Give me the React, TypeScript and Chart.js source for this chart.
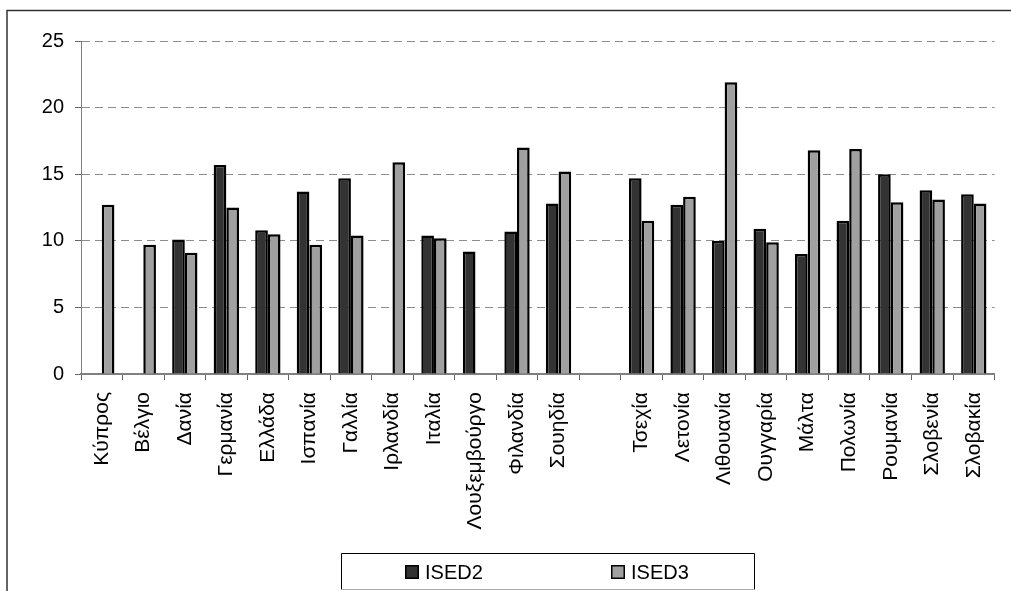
import React, { useEffect, useRef } from "react";
import { Chart, registerables } from "chart.js";

Chart.register(...registerables);

const categories = [
  "Κύπρος", "Βέλγιο", "Δανία", "Γερμανία", "Ελλάδα", "Ισπανία", "Γαλλία",
  "Ιρλανδία", "Ιταλία", "Λουξεμβούργο", "Φιλανδία", "Σουηδία", "",
  "Τσεχία", "Λετονία", "Λιθουανία", "Ουγγαρία", "Μάλτα", "Πολωνία",
  "Ρουμανία", "Σλοβενία", "Σλοβακία",
];

const ised2: (number | null)[] = [
  null, null, 10.1, 15.7, 10.8, 13.7, 14.7, null, 10.4, 9.2, 10.7, 12.8, null,
  14.7, 12.7, 10.0, 10.9, 9.0, 11.5, 15.0, 13.8, 13.5,
];

const ised3: (number | null)[] = [
  12.7, 9.7, 9.1, 12.5, 10.5, 9.7, 10.4, 15.9, 10.2, null, 17.0, 15.2, null,
  11.5, 13.3, 21.9, 9.9, 16.8, 16.9, 12.9, 13.1, 12.8,
];

const seriesNames = ["ISED2", "ISED3"];
const seriesColors = ["#333333", "#a0a0a0"];
const yTicks = [0, 5, 10, 15, 20, 25];

const FONT = "Arial, 'Liberation Sans', sans-serif";

const framePlugin = {
  id: "frameAndLegend",
  beforeDraw(chart: any) {
    const ctx = chart.ctx;
    ctx.save();
    ctx.fillStyle = "#ffffff";
    ctx.fillRect(0, 0, chart.width, chart.height);
    ctx.restore();
  },
  afterDraw(chart: any) {
    const ctx = chart.ctx;
    ctx.save();
    // outer frame
    ctx.strokeStyle = "#333333";
    ctx.lineWidth = 1.5;
    ctx.strokeRect(7, 10.5, 1100, 700);
    // legend box
    const lx = 341.5, ly = 553.5, lw = 413, lh = 36;
    ctx.lineWidth = 1;
    ctx.strokeStyle = "#000000";
    ctx.beginPath();
    ctx.moveTo(lx, ly + lh);
    ctx.lineTo(lx, ly);
    ctx.lineTo(lx + lw, ly);
    ctx.lineTo(lx + lw, ly + lh);
    ctx.stroke();
    ctx.strokeStyle = "#aaaaaa";
    ctx.beginPath();
    ctx.moveTo(lx, ly + lh);
    ctx.lineTo(lx + lw, ly + lh);
    ctx.stroke();
    // legend items
    const items = chart.data.datasets.map((d: any) => ({ label: d.label, color: d.backgroundColor }));
    const xs = [405, 611];
    ctx.font = `20px ${FONT}`;
    ctx.textBaseline = "middle";
    ctx.textAlign = "left";
    items.forEach((it: any, i: number) => {
      const x = xs[i];
      ctx.fillStyle = it.color;
      ctx.fillRect(x, 565, 14, 14);
      ctx.strokeStyle = "#000000";
      ctx.lineWidth = 1.5;
      ctx.strokeRect(x + 0.75, 565.75, 12.5, 12.5);
      ctx.fillStyle = "#000000";
      ctx.fillText(it.label, x + 20, 573);
    });
    ctx.restore();
  },
};

export default function App() {
  const canvasRef = useRef<HTMLCanvasElement | null>(null);

  useEffect(() => {
    if (!canvasRef.current) return;
    const chart = new Chart(canvasRef.current, {
      type: "bar",
      data: {
        labels: categories,
        datasets: [
          {
            label: seriesNames[0],
            data: ised2,
            backgroundColor: seriesColors[0],
            borderColor: "#000000",
            borderWidth: 2.5,
            categoryPercentage: 0.61,
            barPercentage: 1.0,
          },
          {
            label: seriesNames[1],
            data: ised3,
            backgroundColor: seriesColors[1],
            borderColor: "#000000",
            borderWidth: 2.5,
            categoryPercentage: 0.61,
            barPercentage: 1.0,
          },
        ],
      },
      options: {
        responsive: false,
        animation: false,
        events: [],
        layout: { padding: { left: 7, top: 41, right: 1, bottom: 0 } },
        plugins: {
          legend: { display: false },
          tooltip: { enabled: false },
          title: { display: false },
        },
        scales: {
          x: {
            type: "category",
            offset: true,
            afterFit: (scale: any) => {
              scale.height = 217;
            },
            grid: {
              display: true,
              drawOnChartArea: false,
              drawTicks: true,
              tickLength: 6,
              tickColor: "#666666",
              offset: true,
            },
            border: { display: true, color: "#808080", width: 2 },
            ticks: {
              autoSkip: false,
              maxRotation: 90,
              minRotation: 90,
              padding: 12,
              color: "#000000",
              font: { family: FONT, size: 21 },
            },
          },
          y: {
            min: 0,
            max: 25,
            afterFit: (scale: any) => {
              scale.width = 74;
            },
            afterBuildTicks: (scale: any) => {
              scale.ticks = yTicks.map((v) => ({ value: v }));
            },
            grid: {
              color: "#8c8c8c",
              lineWidth: 1,
              tickLength: 6,
              tickColor: "#666666",
              tickBorderDash: [],
              borderDash: [8, 5],
            } as any,
            border: { display: true, color: "#808080", width: 1, dash: [8, 5] } as any,
            ticks: {
              padding: 11,
              color: "#000000",
              font: { family: FONT, size: 20 },
            },
          },
        },
      },
      plugins: [framePlugin],
    } as any);
    return () => chart.destroy();
  }, []);

  return (
    <div style={{ position: "absolute", left: 0, top: 0, width: 1011, height: 591, background: "#fff" }}>
      <canvas ref={canvasRef} width={1011} height={591} style={{ display: "block" }} />
    </div>
  );
}
